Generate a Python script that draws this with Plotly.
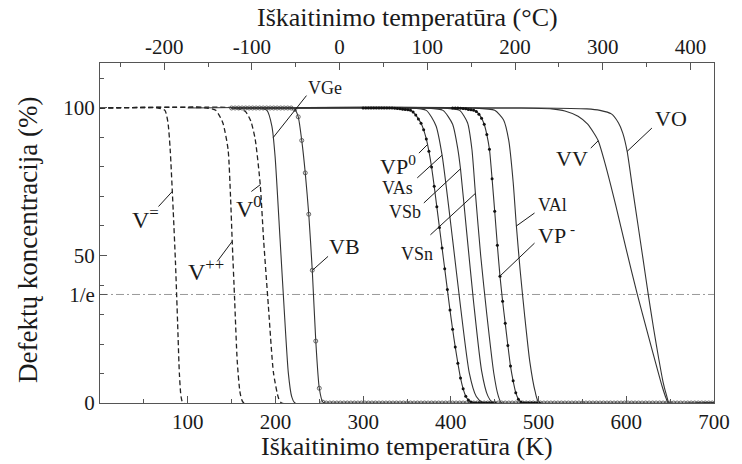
import numpy as np
import plotly.graph_objects as go

# ---------------------------------------------------------------
# Isochronal annealing of vacancy-type defects in Ge
# temperatures in K, remaining defect concentration in %
# ---------------------------------------------------------------
T_RANGE = [0, 700]
PCT_RANGE = [0, 115.25]
ONE_OVER_E = 100 / np.e

K_TICKS = [100, 200, 300, 400, 500, 600, 700]
C_TICKS = [-200, -100, 0, 100, 200, 300, 400]
C_TICK_TEXT = ["-200", "-100", "0", "100", "200", "300", "400"]
Y_TICKS = [0, ONE_OVER_E, 50, 100]
Y_TICK_TEXT = ["0", "1/e", "50", "100"]

# dashed curves (charge states of the vacancy)
vmm_t = [0, 66, 74, 77.5, 80, 83.5, 86, 88.5, 90.5, 92.5, 95, 700]
vmm_p = [100, 100, 99.2, 95, 86, 65, 48, 27, 10, 2, 0, 0]

vpp_t = [0, 122, 132, 140, 146, 148.8, 150.7, 153.5, 156.5, 160, 164, 700]
vpp_p = [100, 100, 99.2, 95, 86, 70, 55, 35, 14, 3, 0, 0]

v0_t = [0, 154, 165.8, 172, 177, 182.7, 186.5, 192, 197.8, 203.5, 207.2, 700]
v0_p = [100, 100, 98.8, 95.5, 89.3, 74, 55.4, 32.7, 10.2, 1.7, 0, 0]

# solid curves
vge_t = [100, 180.8, 190.3, 196, 199.6, 205.3, 209.8, 214.7, 218.5, 222.3, 700]
vge_p = [100, 100, 99.2, 93.8, 83.6, 55.4, 32.7, 10.2, 2.2, 0, 0]

vas_t = [150, 350, 372, 383, 390, 402, 411, 421, 429, 437, 700]
vas_p = [100, 100, 99.2, 94, 84, 55.4, 32.7, 10.2, 2.2, 0, 0]

vsb_t = [150, 372, 391, 402, 408, 411, 418, 426, 435, 442, 448, 700]
vsb_p = [100, 100, 99.2, 94.5, 86, 79.3, 58, 34, 11, 2.5, 0, 0]

vsn_t = [150, 390, 410, 419, 424, 428, 434, 441, 449, 454, 458, 700]
vsn_p = [100, 100, 99.2, 95, 86, 71, 50, 30, 10, 2.5, 0, 0]

val_t = [150, 425, 450, 460, 466, 471, 474.7, 479, 484, 490, 496, 501, 700]
val_p = [100, 100, 99.2, 96, 89, 75, 60, 45, 30, 14, 4, 0, 0]

vv_t = [150, 480, 515, 530, 545, 556, 563, 568, 576, 588, 600, 612.5, 624, 634, 641, 645.5, 648, 700]
vv_p = [100, 100, 99.7, 99, 97.2, 94.5, 91.5, 88.9, 81, 67, 52, 36.9, 24, 13, 5.5, 1.5, 0, 0]

vo_t = [150, 500, 555, 570, 583, 591, 596, 601, 607, 613, 619, 625, 631, 637, 642, 646, 649, 700]
vo_p = [100, 100, 99.7, 99.2, 98, 95, 91.5, 85.3, 73, 61, 49, 36.9, 25.5, 15, 7, 2.5, 0, 0]

# measured series drawn with symbols (annealing steps)
vb_t = list(range(150, 702, 4))
vb_p = [100] * 18 + [99.5, 97, 89, 78, 64, 45, 21, 5] + [0.3] + [0] * 111

vp0_t = list(range(300, 453, 3))
vp0_p = ([100] * 12
         + [99.9, 99.8, 99.7, 99.6, 99.5, 99.4, 99.2, 98.6, 97.6, 96.3,
            94.8, 92.6, 89.5, 85.3, 80, 73.5, 66.5, 59.5, 52.5, 45.5,
            38.5, 31.5, 25, 19, 13.5, 8.5, 4.8, 2.3, 1, 0.3]
         + [0] * 9)

vpm_t = list(range(402, 502, 3))
vpm_p = ([100, 100, 100, 99.9, 99.8, 99.7, 99.5, 99.4, 99.2, 98.8,
          97.9, 96.5, 94.5, 91, 86, 76, 65, 53.5, 43, 34.5,
          27, 19.5, 12.5, 7.5, 3.5, 1.3, 0.3]
         + [0] * 7)

INK = "#1a1a1a"
LINE = "#333333"
FRAME = "#555555"
FONT = "Liberation Serif, Times New Roman, serif"

fig = go.Figure()


def curve(t, p, dash=None, width=1.1, color=LINE):
    fig.add_trace(go.Scatter(
        x=t, y=p, mode="lines",
        line=dict(color=color, width=width, dash=dash, shape="spline", smoothing=0.6),
        hoverinfo="skip", showlegend=False))


for t, p in [(vmm_t, vmm_p), (vpp_t, vpp_p), (v0_t, v0_p)]:
    curve(t, p, dash="5px,3px", width=1.3, color="#222222")

for t, p in [(vge_t, vge_p), (vas_t, vas_p), (vsb_t, vsb_p), (vsn_t, vsn_p),
             (val_t, val_p), (vv_t, vv_p), (vo_t, vo_p)]:
    curve(t, p)

fig.add_trace(go.Scatter(
    x=vb_t, y=vb_p, mode="lines+markers",
    line=dict(color=LINE, width=1.1, shape="spline", smoothing=0.6),
    marker=dict(symbol="circle-open", size=4, color="#444444", line=dict(width=0.8)),
    hoverinfo="skip", showlegend=False))

for t, p in [(vp0_t, vp0_p), (vpm_t, vpm_p)]:
    fig.add_trace(go.Scatter(
        x=t, y=p, mode="lines+markers",
        line=dict(color=LINE, width=1.1, shape="spline", smoothing=0.6),
        marker=dict(symbol="circle", size=3, color="#111111"),
        hoverinfo="skip", showlegend=False))

# invisible trace to activate the Celsius axis on top
fig.add_trace(go.Scatter(x=[C_TICKS[0]], y=[None], xaxis="x2", mode="lines",
                         hoverinfo="skip", showlegend=False))

# 1/e reference level
fig.add_shape(type="line", xref="x", yref="y", x0=T_RANGE[0], x1=T_RANGE[1],
              y0=ONE_OVER_E, y1=ONE_OVER_E,
              line=dict(color="#9a9a9a", width=1, dash="8px,3px,2px,3px"), layer="below")

# curve labels: text, text position, leader start, leader end, font size
labels = [
    ("V<sup>=</sup>", (52, 62.8), (66.7, 66.6), (82.4, 71.7), 24),
    ("V<sup>++</sup>", (120.5, 45.2), (133.7, 48.0), (150.7, 54.8), 24),
    ("V<sup>0</sup>", (169.5, 66.6), (172.6, 71.7), (182.7, 74.0), 24),
    ("VGe", (256.1, 106.8), (235.4, 104.2), (197.5, 90.0), 18),
    ("VB", (279.2, 53.0), (260.0, 49.7), (242.2, 45.0), 22),
    ("VP<sup>0</sup>", (339.8, 80.8), (363.6, 84.7), (373.0, 87.5), 22),
    ("VAs", (339.1, 72.9), (361.7, 76.3), (390.0, 84.0), 18),
    ("VSb", (347.4, 64.7), (369.2, 67.8), (410.7, 79.3), 18),
    ("VSn", (361.7, 50.6), (376.7, 57.0), (427.8, 71.0), 18),
    ("VAl", (515.4, 67.2), (495.4, 64.4), (474.7, 60.0), 18),
    ("VP<sup> -</sup>", (520.0, 57.4), (495.4, 54.2), (455.9, 43.0), 22),
    ("VV", (538.0, 82.8), (559.5, 86.4), (568.0, 88.9), 22),
    ("VO", (651.0, 96.6), (629.2, 93.2), (601.0, 85.3), 22),
]
for text, (tx, ty), (x0, y0), (x1, y1), size in labels:
    fig.add_shape(type="line", xref="x", yref="y", x0=x0, y0=y0, x1=x1, y1=y1,
                  line=dict(color=INK, width=1))
    fig.add_annotation(x=tx, y=ty, xref="x", yref="y", text=text, showarrow=False,
                       font=dict(family=FONT, size=size, color=INK),
                       xanchor="center", yanchor="middle")

# axis titles
fig.add_annotation(x=0.5, y=-0.127, xref="paper", yref="paper",
                   text="Iškaitinimo temperatūra (K)", showarrow=False,
                   font=dict(family=FONT, size=26, color=INK), yanchor="middle")
fig.add_annotation(x=0.5, y=1.135, xref="paper", yref="paper",
                   text="Iškaitinimo temperatūra (°C)", showarrow=False,
                   font=dict(family=FONT, size=26, color=INK), yanchor="middle")
fig.add_annotation(x=-0.117, y=0.48, xref="paper", yref="paper",
                   text="Defektų koncentracija (%)", showarrow=False, textangle=-90,
                   font=dict(family=FONT, size=27, color=INK),
                   xanchor="center", yanchor="middle")

axis_common = dict(showgrid=False, zeroline=False, showline=True, linecolor=FRAME,
                   linewidth=1, ticks="inside", ticklen=7, tickcolor=FRAME,
                   tickfont=dict(family=FONT, size=21, color=INK))

fig.update_layout(
    width=742, height=464,
    margin=dict(l=100, r=23, t=63, b=61),
    paper_bgcolor="white", plot_bgcolor="white",
    font=dict(family=FONT, color=INK),
    xaxis=dict(range=T_RANGE, tickvals=K_TICKS, ticktext=[str(v) for v in K_TICKS],
               minor=dict(dtick=50, tick0=0, ticks="inside", ticklen=4, tickcolor=FRAME),
               **axis_common),
    xaxis2=dict(overlaying="x", side="top",
                range=[T_RANGE[0] - 273.15, T_RANGE[1] - 273.15],
                tickvals=C_TICKS, ticktext=C_TICK_TEXT,
                minor=dict(dtick=50, tick0=0, ticks="inside", ticklen=4, tickcolor=FRAME),
                **axis_common),
    yaxis=dict(range=PCT_RANGE, tickvals=Y_TICKS, ticktext=Y_TICK_TEXT, mirror=True,
               minor=dict(tickvals=[10, 20, 30, 40, 60, 70, 80, 90, 110],
                          ticks="inside", ticklen=4, tickcolor=FRAME),
               **axis_common),
)

fig.write_html("out.html")
